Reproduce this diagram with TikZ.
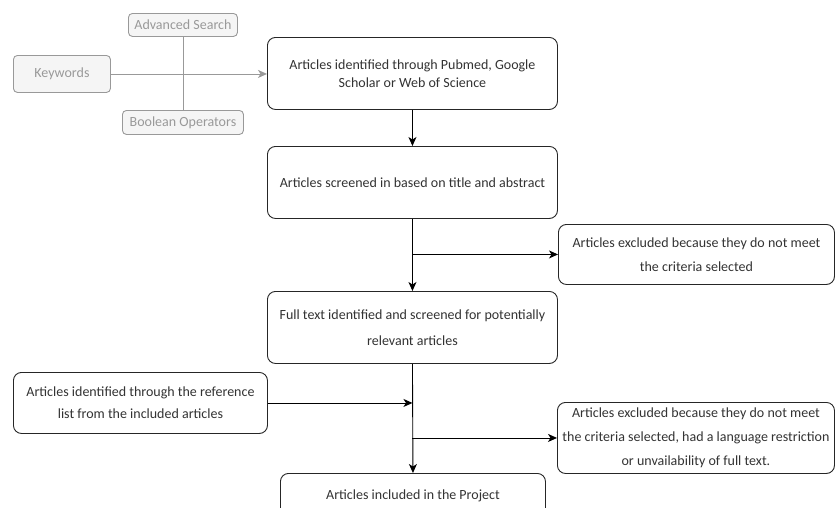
\documentclass[tikz,border=0pt]{standalone}
\usepackage{fontspec}
\setmainfont{Carlito}
\usetikzlibrary{arrows.meta}
\definecolor{txt}{HTML}{333333}
\definecolor{gtxt}{HTML}{999999}
\definecolor{gline}{HTML}{999999}
\definecolor{gfill}{HTML}{F5F5F5}
\begin{document}
\begin{tikzpicture}[x=1pt,y=-1pt,
  box/.style={draw=black!85, line width=0.9pt, rounded corners=8pt, fill=white,
    anchor=north west, inner sep=0pt, align=center, text=txt,
    font=\fontsize{14}{18}\selectfont},
  gbox/.style={draw=gline, line width=0.9pt, rounded corners=4pt, fill=gfill,
    anchor=north west, inner sep=0pt, align=center, text=gtxt,
    font=\fontsize{14}{16}\selectfont},
  arr/.style={line width=0.9pt, draw=black, -{Stealth[length=9pt,width=8pt,inset=2.5pt]}},
  garr/.style={line width=0.9pt, draw=gline, -{Stealth[length=9pt,width=8pt,inset=2.5pt]}},
  gln/.style={line width=0.9pt, draw=gline},
  ln/.style={line width=0.9pt, draw=black}]
\useasboundingbox (0,0) rectangle (835,507);
\clip (0,0) rectangle (835,507);
% grey inputs
\node[gbox, minimum width=109pt, minimum height=23pt] (adv) at (128,13) {Advanced Search};
\node[gbox, minimum width=97pt, minimum height=37pt] (kw) at (13,55) {Keywords};
\node[gbox, minimum width=121pt, minimum height=24pt] (bool) at (122,110) {Boolean Operators};
% main flow
\node[box, minimum width=290pt, minimum height=72pt] (b1) at (267,37)
  {Articles identified through Pubmed, Google\\Scholar or Web of Science};
\node[box, minimum width=290pt, minimum height=72pt] (b2) at (267,146)
  {Articles screened in based on title and abstract};
\node[box, minimum width=276pt, minimum height=60pt, font=\fontsize{14}{24}\selectfont] (ex1) at (558,224)
  {Articles excluded because they do not meet\\the criteria selected};
\node[box, minimum width=290pt, minimum height=72pt, font=\fontsize{14}{26}\selectfont] (b3) at (267,291)
  {Full text identified and screened for potentially\\relevant articles};
\node[box, minimum width=254pt, minimum height=61pt, font=\fontsize{14}{22}\selectfont] (ref) at (13,372)
  {Articles identified through the reference\\list from the included articles};
\node[box, minimum width=277pt, minimum height=71pt, font=\fontsize{14}{24}\selectfont] (ex2) at (557,402)
  {Articles excluded because they do not meet\\the criteria selected, had a language restriction\\or unvailability of full text.};
\node[box, minimum width=265pt, minimum height=45pt] (fin) at (280,473)
  {Articles included in the Project};
% coordinates on the trunk
\coordinate (j1) at (b2.south |- ex1.west);
\coordinate (j2) at (b3.south |- ref.east);
\coordinate (j3) at (b3.south |- ex2.west);
% connectors
\draw[gln] (adv.south) -- (bool.north);
\draw[garr] (kw.east) -- (kw.east -| b1.west);
\draw[arr] (b1.south) -- (b2.north);
\draw[arr] (b2.south) -- (b3.north);
\draw[arr] (j1) -- (ex1.west);
\draw[arr] (b3.south) -- (fin.north);
\draw[arr] (ref.east) -- (j2);
\draw[arr] (j3) -- (ex2.west);
\end{tikzpicture}
\end{document}
